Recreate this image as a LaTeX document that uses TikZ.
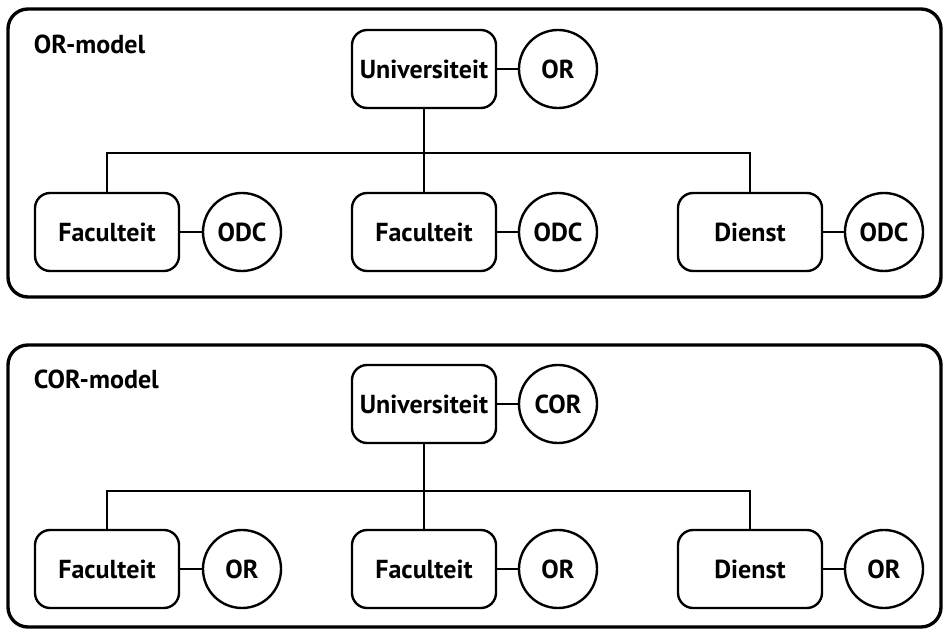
\documentclass[tikz,border=0pt]{standalone}
\usepackage{fontspec}
\setmainfont{PT Sans}
\usepackage{tikz}

\begin{document}
\begin{tikzpicture}[x=0.025cm,y=-0.025cm,
    frame/.style={line width=2.4pt, rounded corners=0.5cm},
    unit/.style={draw, line width=1.7pt, rounded corners=0.38cm, minimum width=3.6cm, minimum height=1.95cm, font=\bfseries\fontsize{18.5}{20}\selectfont},
    org/.style={draw, circle, line width=1.7pt, minimum size=1.95cm, inner sep=0pt, font=\bfseries\fontsize{18.5}{20}\selectfont},
    title/.style={anchor=west, font=\bfseries\fontsize{18.5}{20}\selectfont},
    link/.style={line width=1.2pt}]
  \useasboundingbox (0,0) rectangle (943,629);
  % OR-model
  \draw [frame] (8,9) rectangle (941,297);
  \node [title] (t1) at (29,44) {OR-model};
  \node [unit] (u1) at (424,69) {Universiteit};
  \node [org] (c1) at (558,69) {OR};
  \node [unit] (f1) at (107,232) {Faculteit};
  \node [org] (o1) at (242,232) {ODC};
  \node [unit] (f2) at (424,232) {Faculteit};
  \node [org] (o2) at (558,232) {ODC};
  \node [unit] (d1) at (750,232) {Dienst};
  \node [org] (o3) at (884,232) {ODC};
  \coordinate (b1) at (424,153);
  \draw [link] (u1) -- (c1);
  \draw [link] (u1) -- (f2);
  \draw [link] (f1) |- (b1) -| (d1);
  \draw [link] (f1) -- (o1);
  \draw [link] (f2) -- (o2);
  \draw [link] (d1) -- (o3);
  % COR-model
  \draw [frame] (8,345) rectangle (941,627);
  \node [title] (t2) at (29,379) {COR-model};
  \node [unit] (u2) at (424,404) {Universiteit};
  \node [org] (c2) at (558,404) {COR};
  \node [unit] (f3) at (107,569) {Faculteit};
  \node [org] (o4) at (242,569) {OR};
  \node [unit] (f4) at (424,569) {Faculteit};
  \node [org] (o5) at (558,569) {OR};
  \node [unit] (d2) at (750,569) {Dienst};
  \node [org] (o6) at (884,569) {OR};
  \coordinate (b2) at (424,491);
  \draw [link] (u2) -- (c2);
  \draw [link] (u2) -- (f4);
  \draw [link] (f3) |- (b2) -| (d2);
  \draw [link] (f3) -- (o4);
  \draw [link] (f4) -- (o5);
  \draw [link] (d2) -- (o6);
\end{tikzpicture}
\end{document}
